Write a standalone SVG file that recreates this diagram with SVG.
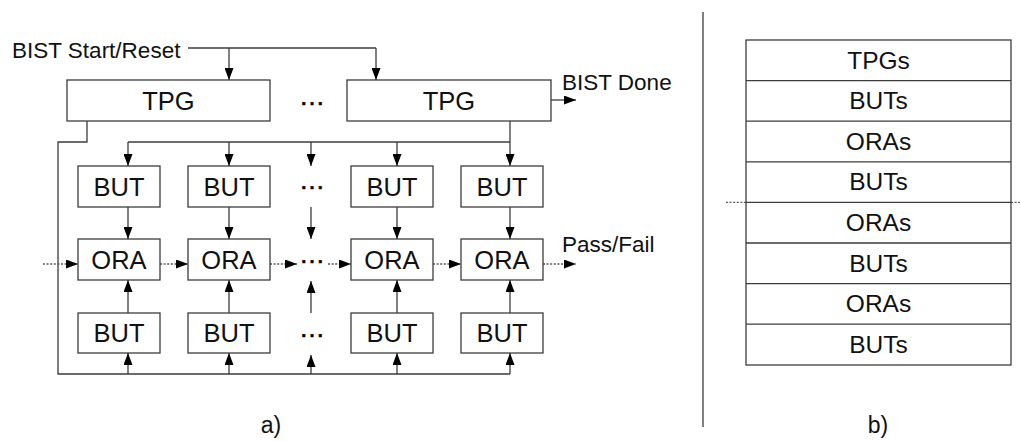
<svg xmlns="http://www.w3.org/2000/svg" width="1021" height="441" viewBox="0 0 1021 441">
  <style>
    .box { fill: #ffffff; stroke: #3c3c3c; stroke-width: 1.3; }
    .wire { fill: none; stroke: #3c3c3c; stroke-width: 1.3; }
    .arr { fill: none; stroke: #3c3c3c; stroke-width: 1.3; marker-end: url(#head); }
    .dot { fill: none; stroke: #555555; stroke-width: 1.3; stroke-dasharray: 2 1.6; }
    .dotarr { fill: none; stroke: #555555; stroke-width: 1.3; stroke-dasharray: 2 1.6; marker-end: url(#head); }
    .lbl { font-family: "Liberation Sans", Arial, sans-serif; font-size: 25.5px; fill: #111111; text-anchor: middle; }
    .ell { font-family: "Liberation Sans", Arial, sans-serif; font-size: 26px; fill: #000000; stroke: #000000; stroke-width: 0.6; text-anchor: middle; }
    .sig { font-family: "Liberation Sans", Arial, sans-serif; font-size: 22.5px; fill: #111111; }
    .stk { font-family: "Liberation Sans", Arial, sans-serif; font-size: 24.5px; fill: #111111; text-anchor: middle; }
    .cap { font-family: "Liberation Sans", Arial, sans-serif; font-size: 23px; fill: #111111; text-anchor: middle; }
  </style>
  <defs>
    <marker id="head" markerUnits="userSpaceOnUse" markerWidth="12" markerHeight="9" refX="12" refY="4.5" orient="auto">
      <path d="M0,0 L12,4.5 L0,9 z" fill="#000000"/>
    </marker>
  </defs>
  <rect width="1021" height="441" fill="#ffffff"/>

  <!-- connectors -->
  <g id="connectors">
    <!-- start/reset distribution -->
    <path class="wire" d="M188,48 H376"/>
    <path class="arr" d="M229,48 V80"/>
    <path class="arr" d="M376,48 V80"/>
    <!-- done flag -->
    <path class="arr" d="M551,100 H576"/>
    <!-- top pattern bus -->
    <path class="wire" d="M128,142 H510"/>
    <path class="arr" d="M510,121 V166"/>
    <path class="arr" d="M128,142 V166"/>
    <path class="arr" d="M229,142 V166"/>
    <path class="arr" d="M311,142 V166"/>
    <path class="arr" d="M397,142 V166"/>
    <!-- bottom pattern bus from first TPG -->
    <path class="wire" d="M87,121 V142 H58 V374 H510"/>
    <path class="arr" d="M128,374 V353"/>
    <path class="arr" d="M229,374 V353"/>
    <path class="arr" d="M311,374 V355"/>
    <path class="arr" d="M397,374 V353"/>
    <path class="arr" d="M510,374 V353"/>
    <!-- BUT to ORA, upper row -->
    <path class="arr" d="M128,207 V239"/>
    <path class="arr" d="M229,207 V239"/>
    <path class="arr" d="M311,207 V239"/>
    <path class="arr" d="M397,207 V239"/>
    <path class="arr" d="M510,207 V239"/>
    <!-- BUT to ORA, lower row -->
    <path class="arr" d="M128,313 V280"/>
    <path class="arr" d="M229,313 V280"/>
    <path class="arr" d="M311,313 V281"/>
    <path class="arr" d="M397,313 V280"/>
    <path class="arr" d="M510,313 V280"/>
    <!-- ORA chain -->
    <path class="dotarr" d="M43,264 H78"/>
    <path class="dotarr" d="M160,264 H188"/>
    <path class="dotarr" d="M270,264 H297"/>
    <path class="dotarr" d="M328,264 H351"/>
    <path class="dotarr" d="M433,264 H461"/>
    <path class="dotarr" d="M543,264 H576"/>
  </g>

  <!-- (a) array -->
  <g id="tpg1"><rect class="box" x="67" y="80" width="203" height="41"/><text class="lbl" x="168.5" y="110">TPG</text></g>
  <g id="tpg2"><rect class="box" x="347" y="80" width="204" height="41"/><text class="lbl" x="449" y="110">TPG</text></g>

  <g id="but-a1"><rect class="box" x="78" y="166" width="82" height="41"/><text class="lbl" x="119" y="196">BUT</text></g>
  <g id="but-a2"><rect class="box" x="188" y="166" width="82" height="41"/><text class="lbl" x="229" y="196">BUT</text></g>
  <g id="but-a3"><rect class="box" x="351" y="166" width="82" height="41"/><text class="lbl" x="392" y="196">BUT</text></g>
  <g id="but-a4"><rect class="box" x="461" y="166" width="82" height="41"/><text class="lbl" x="502" y="196">BUT</text></g>

  <g id="ora1"><rect class="box" x="78" y="239" width="82" height="41"/><text class="lbl" x="119" y="269">ORA</text></g>
  <g id="ora2"><rect class="box" x="188" y="239" width="82" height="41"/><text class="lbl" x="229" y="269">ORA</text></g>
  <g id="ora3"><rect class="box" x="351" y="239" width="82" height="41"/><text class="lbl" x="392" y="269">ORA</text></g>
  <g id="ora4"><rect class="box" x="461" y="239" width="82" height="41"/><text class="lbl" x="502" y="269">ORA</text></g>

  <g id="but-b1"><rect class="box" x="78" y="313" width="82" height="40"/><text class="lbl" x="119" y="342">BUT</text></g>
  <g id="but-b2"><rect class="box" x="188" y="313" width="82" height="40"/><text class="lbl" x="229" y="342">BUT</text></g>
  <g id="but-b3"><rect class="box" x="351" y="313" width="82" height="40"/><text class="lbl" x="392" y="342">BUT</text></g>
  <g id="but-b4"><rect class="box" x="461" y="313" width="82" height="40"/><text class="lbl" x="502" y="342">BUT</text></g>

  <g id="ellipses">
    <text class="ell" x="312" y="104.5">…</text>
    <text class="ell" x="312" y="189">…</text>
    <text class="ell" x="312" y="263">…</text>
    <text class="ell" x="312" y="336.5">…</text>
  </g>

  <g id="signals">
    <text class="sig" x="12" y="58">BIST Start/Reset</text>
    <text class="sig" x="562" y="90">BIST Done</text>
    <text class="sig" x="562" y="252">Pass/Fail</text>
  </g>
  <text class="cap" x="271" y="433">a)</text>

  <!-- divider -->
  <path class="wire" d="M703,12 V427"/>

  <!-- (b) layer stack -->
  <g id="stack">
    <rect class="box" x="746" y="40" width="265" height="325"/>
    <path class="wire" d="M746,80.6 H1011 M746,121.2 H1011 M746,161.8 H1011 M746,243 H1011 M746,283.6 H1011 M746,324.2 H1011"/>
    <path class="wire" d="M746,202.4 H1011"/>
    <path class="dot" d="M726,202.4 H746 M1011,202.4 H1020"/>
    <text class="stk" x="878.5" y="68.5">TPGs</text>
    <text class="stk" x="878.5" y="109">BUTs</text>
    <text class="stk" x="878.5" y="149.5">ORAs</text>
    <text class="stk" x="878.5" y="190">BUTs</text>
    <text class="stk" x="878.5" y="231">ORAs</text>
    <text class="stk" x="878.5" y="271.5">BUTs</text>
    <text class="stk" x="878.5" y="312">ORAs</text>
    <text class="stk" x="878.5" y="352.5">BUTs</text>
  </g>
  <text class="cap" x="878" y="433">b)</text>
</svg>
